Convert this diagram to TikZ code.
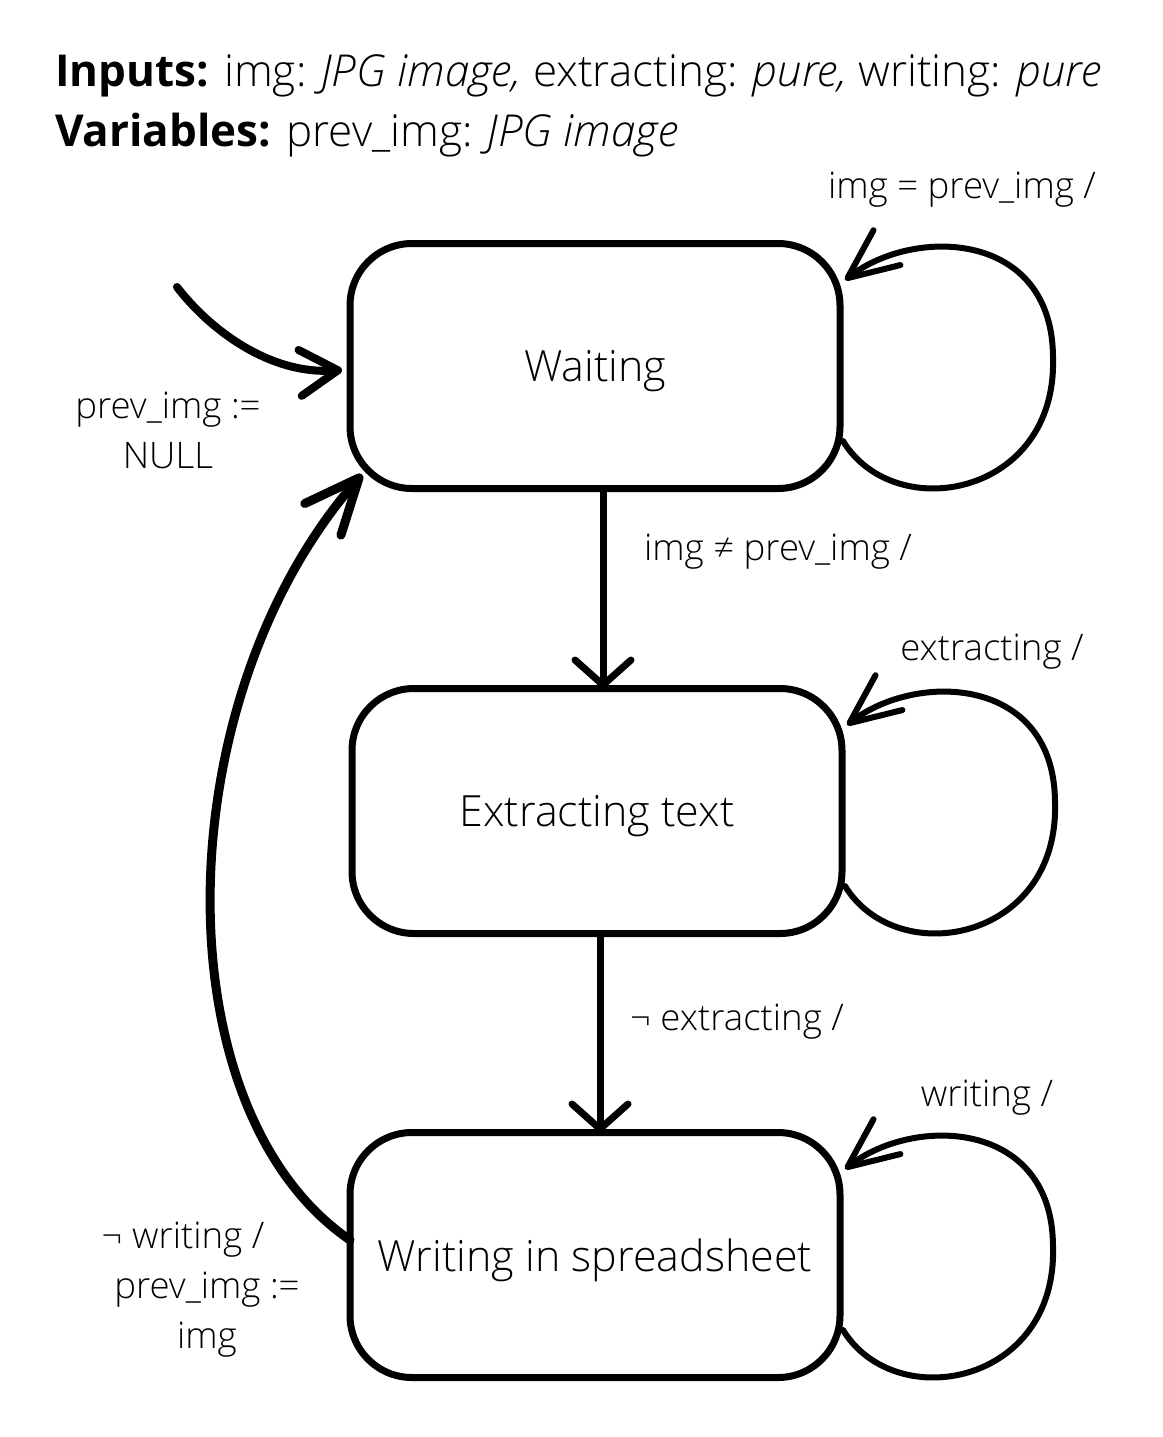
\documentclass[tikz,border=0pt]{standalone}
\usepackage{fontspec}
\IfFontExistsTF{Open Sans Light}
  {\setmainfont{Open Sans Light}[BoldFont={Open Sans Bold}, ItalicFont={Open Sans Light Italic}]}
  {\setmainfont{Open Sans}}
\usetikzlibrary{arrows.meta,calc}
\newcommand\drawselfloop[1]{%
  \draw[looparrow] ($(#1)+(248,75)$) .. controls ($(#1)+(300,160)$) and ($(#1)+(462,130)$) ..
    ($(#1)+(458,-8)$) .. controls ($(#1)+(458,-135)$) and ($(#1)+(320,-140)$) .. ($(#1)+(250,-86)$);}
\begin{document}
\begin{tikzpicture}[x=1pt,y=-1pt,
  state/.style={draw, line width=7pt, rounded corners=62pt, minimum width=490pt,
    minimum height=245pt, inner sep=0pt, outer sep=0pt, text depth=0pt,
    font=\fontsize{43}{51}\selectfont},
  lbl/.style={font=\fontsize{36.6}{50}\selectfont, inner sep=0pt, align=center},
  head/.style={font=\fontsize{44}{52}\selectfont, inner sep=0pt, anchor=base west},
  downarrow/.style={line width=7pt, -{Straight Barb[length=25pt,width=56pt,round]}},
  looparrow/.style={line width=6pt, line cap=round, -{Straight Barb[length=50pt,width=44pt,round]}},
  initarrow/.style={line width=8pt, line cap=round, -{Straight Barb[length=38pt,width=46pt,round]}},
  backarrow/.style={line width=9pt, line cap=round, -{Straight Barb[length=55pt,width=48pt,round]}}]
\useasboundingbox[fill=white] (0,0) rectangle (1162,1437);

% header
\node[head] (h1) at (55,86) {\textbf{Inputs:} img: \textit{JPG image,} extracting: \textit{pure,} writing: \textit{pure}};
\node[head] (h2) at (55,146) {\textbf{Variables:} prev\_img: \textit{JPG image}};

% states
\node[state] (W) at (595,366) {Waiting};
\node[state] (E) at (597,811) {Extracting text};
\node[state] (S) at (595,1255) {Writing in spreadsheet};

% self loops
\drawselfloop{W}
\drawselfloop{E}
\drawselfloop{S}

% transitions
\draw[downarrow] ([xshift=8pt]W.south) -- ([xshift=8pt]W.south |- E.north);
\draw[downarrow] ([xshift=3pt]E.south) -- ([xshift=3pt]E.south |- S.north);

% initial arrow
\coordinate (init) at (177,287);
\draw[initarrow] (init) .. controls (210,330) and (270,375) .. ([xshift=-8pt,yshift=-4pt]W.west);

% back arrow
\draw[backarrow] ([yshift=15pt]S.west) .. controls (160,1110) and (165,700) .. ($(W.south west)+(12,-14)$);

% labels
\node[lbl] (lw) at (962,190) {img = prev\_img /};
\node[lbl] (li) at (168,430) {prev\_img :=\\NULL};
\node[lbl] (lwe) at (778,552) {img ≠ prev\_img /};
\node[lbl] (le) at (992,652) {extracting /};
\node[lbl] (les) at (737,1022) {¬ extracting /};
\node[lbl] (ls) at (987,1098) {writing /};
\node[lbl] (lsw) at (207,1290) {¬ writing /\hspace*{48pt}\\prev\_img :=\\img};
\end{tikzpicture}
\end{document}
